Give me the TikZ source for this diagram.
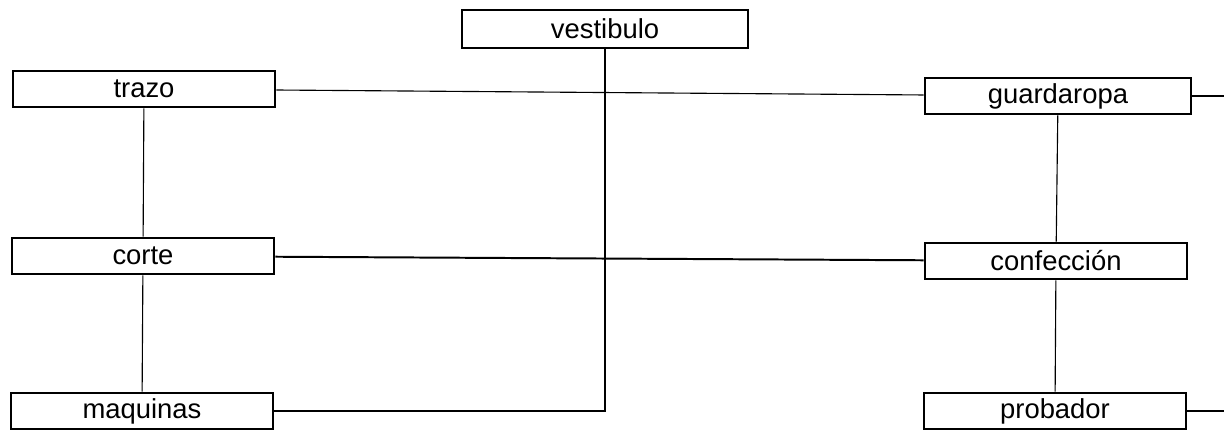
\documentclass[tikz,border=0pt]{standalone}
\usepackage{fontspec}
\setmainfont{Liberation Sans}
\begin{document}
\begin{tikzpicture}[x=0.025cm, y=-0.025cm,
    room/.style={draw, line width=2pt, fill=white, font=\fontsize{19.5}{23}\selectfont, minimum width=6.55cm, minimum height=0.9cm, inner sep=0pt},
    link/.style={line width=0.8pt}]
    \useasboundingbox (0,0) rectangle (1224,432);
    \node[room, minimum width=7.15cm, minimum height=0.95cm] (vestibulo) at (605,29) {vestibulo};
    \node[room] (trazo) at (144,89) {trazo};
    \node[room] (corte) at (143,256) {corte};
    \node[room] (maquinas) at (142,411) {maquinas};
    \node[room, minimum width=6.65cm] (guardaropa) at (1058,96) {guardaropa};
    \node[room] (confeccion) at (1056,261) {confección};
    \node[room] (probador) at (1055,411) {probador};
    \coordinate (outA) at (1224,96);
    \coordinate (outB) at (1224,411);
    \draw[link] (trazo) -- (guardaropa);
    \draw[link] (trazo) -- (corte);
    \draw[link] (corte) -- (maquinas);
    \draw[line width=1.4pt] (corte) -- (confeccion);
    \draw[link] (guardaropa) -- (confeccion);
    \draw[link] (confeccion) -- (probador);
    \draw[link] (vestibulo) |- (maquinas);
    \draw[link] (guardaropa) -- (outA);
    \draw[link] (probador) -- (outB);
  \end{tikzpicture}
\end{document}
